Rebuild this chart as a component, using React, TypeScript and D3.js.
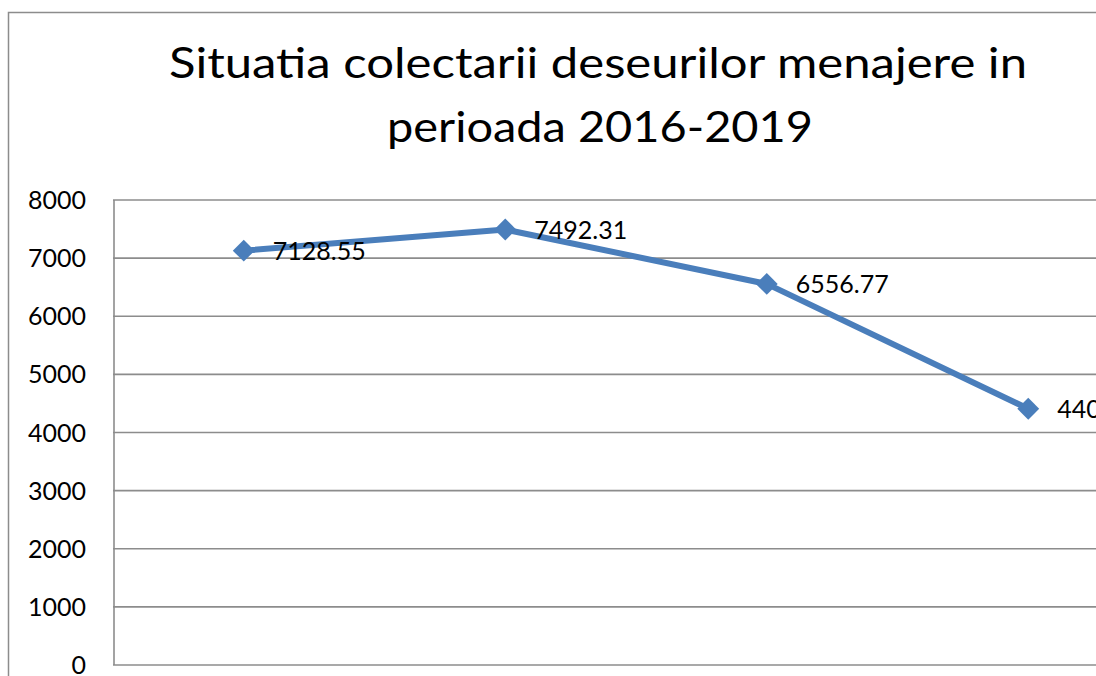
import React from 'react';
import * as d3 from 'd3';

const years = ['2016', '2017', '2018', '2019'];
const values = [7128.55, 7492.31, 6556.77, 4408.12];
const yTicks = [0, 1000, 2000, 3000, 4000, 5000, 6000, 7000, 8000];
const titleLines = ['Situatia colectarii deseurilor menajere in', 'perioada 2016-2019'];

const W = 1096;
const H = 676;
const FONT = 'Lato, "Open Sans", sans-serif';

const App: React.FC = () => {
  const plot = { left: 113, top: 200, bottom: 665, right: 1159 };

  const x = d3.scaleBand<string>()
    .domain(years)
    .range([plot.left, plot.right]);

  const y = d3.scaleLinear()
    .domain([0, 8000])
    .range([plot.bottom, plot.top]);

  const cx = (yr: string) => (x(yr) ?? 0) + x.bandwidth() / 2;

  const line = d3.line<number>()
    .x((_, i) => cx(years[i]))
    .y(d => y(d));

  const diamond = d3.symbol().type(d3.symbolSquare).size(240)();

  return (
    <svg
      width={W}
      height={H}
      style={{ position: 'absolute', left: 0, top: 0, background: '#fff' }}
      fontFamily={FONT}
    >
      {/* outer chart border, cut off at right and bottom */}
      <rect x={8.5} y={12.5} width={W + 20} height={H + 20} fill="none" stroke="#8c8c8c" strokeWidth={1.5} />

      {/* title */}
      <text x={598} y={78} textAnchor="middle" fontSize={43} textLength={858} lengthAdjust="spacingAndGlyphs" fill="#000">
        {titleLines[0]}
      </text>
      <text x={600} y={142} textAnchor="middle" fontSize={43} textLength={426} lengthAdjust="spacingAndGlyphs" fill="#000">
        {titleLines[1]}
      </text>

      {/* gridlines */}
      {yTicks.map(t => (
        <line key={t} x1={plot.left} x2={W} y1={y(t)} y2={y(t)} stroke="#8c8c8c" strokeWidth={1.6} />
      ))}
      <line x1={plot.left + 1} x2={plot.left + 1} y1={plot.top} y2={plot.bottom} stroke="#8c8c8c" strokeWidth={1.6} />

      {/* y tick labels */}
      {yTicks.map(t => (
        <text key={t} x={86} y={y(t)} dy="0.36em" textAnchor="end" fontSize={25} fill="#000">
          {t}
        </text>
      ))}

      {/* series */}
      <path d={line(values) ?? ''} fill="none" stroke="#4a7ebb" strokeWidth={6} strokeLinejoin="round" />
      {values.map((v, i) => (
        <path
          key={years[i]}
          d={diamond ?? ''}
          transform={`translate(${cx(years[i])},${y(v)}) rotate(45)`}
          fill="#4a7ebb"
        />
      ))}

      {/* data labels */}
      {values.map((v, i) => (
        <text key={years[i]} x={cx(years[i]) + 29} y={y(v)} dy="0.36em" fontSize={25} fill="#000">
          {v.toFixed(2)}
        </text>
      ))}
    </svg>
  );
};

export default App;
